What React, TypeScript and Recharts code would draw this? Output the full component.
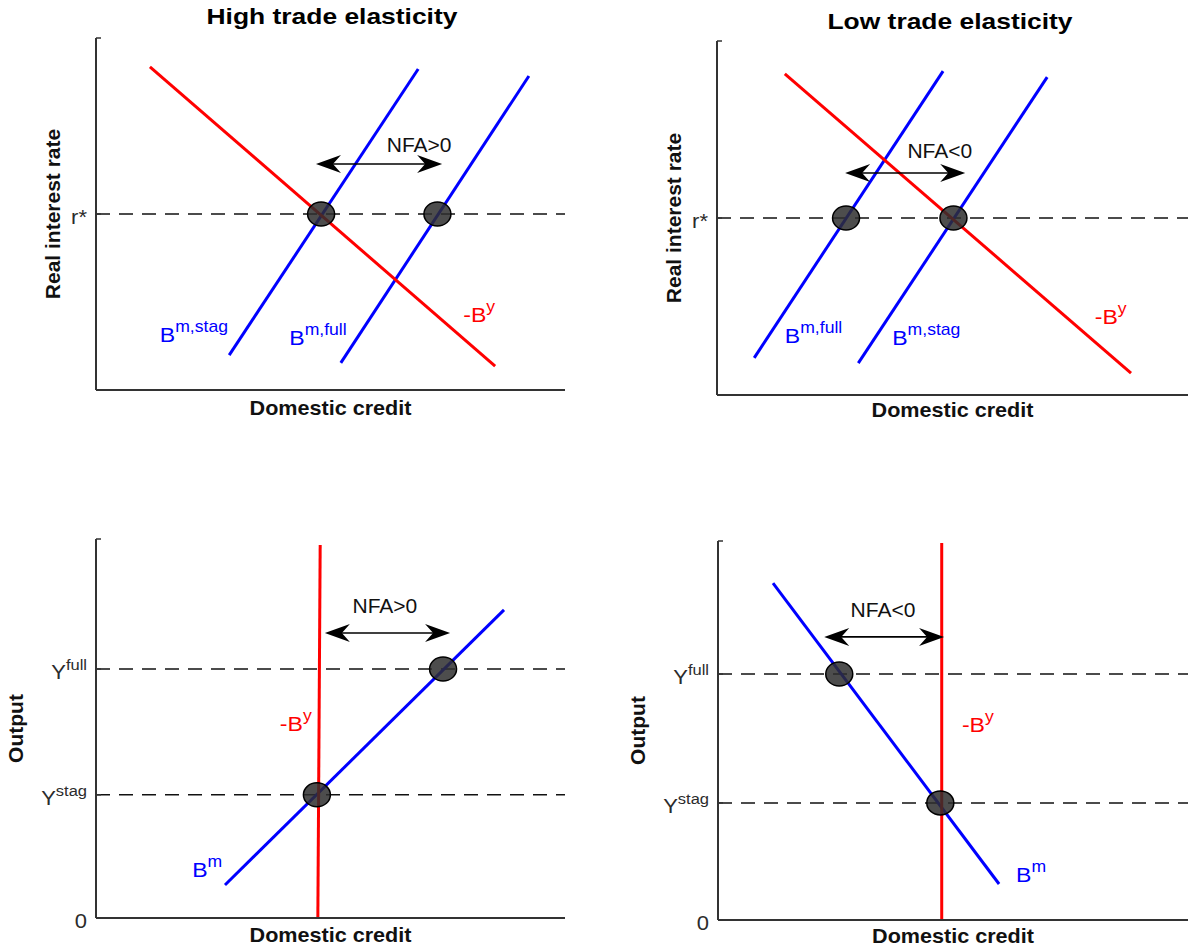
import React from 'react';
import { LineChart, Line, XAxis, YAxis, ReferenceLine, ReferenceDot } from 'recharts';

const FONT = '"Liberation Sans", Arial, Helvetica, sans-serif';
const BLUE = '#0000ff';
const RED = '#ff0000';
const AXIS = '#333333';

type Pt = { x: number; y: number };
type Tag = { x: number; y: number; main: string; sup: string; color: string };

// ---- top left: high trade elasticity, real interest rate vs domestic credit
const hiRateNegBy: Pt[] = [{ x: 11.5, y: 91.8 }, { x: 85.1, y: 6.8 }];
const hiRateBmStag: Pt[] = [{ x: 28.4, y: 9.9 }, { x: 68.7, y: 91.2 }];
const hiRateBmFull: Pt[] = [{ x: 52.2, y: 7.7 }, { x: 92.3, y: 89.2 }];
const hiRateRefs = [50];
const hiRateTicks = [50, 100];
const hiRateTickLabels = [['r*', ''], ['', '']];
const hiRateDots: Pt[] = [{ x: 48.0, y: 50 }, { x: 72.8, y: 50 }];
const hiRateArrow: Pt[] = [{ x: 46.9, y: 64.2 }, { x: 73.8, y: 64.2 }];
const hiRateNfa = { x: 68.9, y: 67.6, text: 'NFA>0' };
const hiRateTags: Tag[] = [
  { x: 13.6, y: 13.6, main: 'B', sup: 'm,stag', color: BLUE },
  { x: 41.2, y: 12.8, main: 'B', sup: 'm,full', color: BLUE },
  { x: 78.3, y: 19.3, main: '-B', sup: 'y', color: RED },
];

// ---- top right: low trade elasticity
const loRateNegBy: Pt[] = [{ x: 14.4, y: 90.7 }, { x: 87.9, y: 6.2 }];
const loRateBmFull: Pt[] = [{ x: 7.9, y: 10.5 }, { x: 48.0, y: 91.5 }];
const loRateBmStag: Pt[] = [{ x: 30.0, y: 9.0 }, { x: 70.1, y: 89.8 }];
const loRateRefs = [50];
const loRateTicks = [50, 100];
const loRateTickLabels = [['r*', ''], ['', '']];
const loRateDots: Pt[] = [{ x: 27.4, y: 50 }, { x: 50.2, y: 50 }];
const loRateArrow: Pt[] = [{ x: 27.2, y: 62.7 }, { x: 52.7, y: 62.7 }];
const loRateNfa = { x: 47.3, y: 66.9, text: 'NFA<0' };
const loRateTags: Tag[] = [
  { x: 14.4, y: 14.7, main: 'B', sup: 'm,full', color: BLUE },
  { x: 37.2, y: 14.1, main: 'B', sup: 'm,stag', color: BLUE },
  { x: 80.2, y: 20.1, main: '-B', sup: 'y', color: RED },
];

// ---- bottom left: output, high elasticity
const hiOutNegBy: Pt[] = [{ x: 47.8, y: 98.4 }, { x: 47.3, y: 0 }];
const hiOutBm: Pt[] = [{ x: 27.5, y: 8.7 }, { x: 87.0, y: 81.3 }];
const hiOutRefs = [65.7, 32.5];
const hiOutTicks = [0, 32.5, 65.7, 100];
const hiOutTickLabels = [['0', ''], ['Y', 'stag'], ['Y', 'full'], ['', '']];
const hiOutDots: Pt[] = [{ x: 47.1, y: 32.5 }, { x: 74.0, y: 65.7 }];
const hiOutArrow: Pt[] = [{ x: 48.8, y: 75.2 }, { x: 75.5, y: 75.2 }];
const hiOutNfa = { x: 61.6, y: 80.5, text: 'NFA>0' };
const hiOutTags: Tag[] = [
  { x: 39.2, y: 49.3, main: '-B', sup: 'y', color: RED },
  { x: 20.5, y: 10.8, main: 'B', sup: 'm', color: BLUE },
];

// ---- bottom right: output, low elasticity
const loOutNegBy: Pt[] = [{ x: 47.6, y: 99.5 }, { x: 47.6, y: 0 }];
const loOutBm: Pt[] = [{ x: 11.7, y: 88.9 }, { x: 59.8, y: 9.5 }];
const loOutRefs = [64.9, 30.9];
const loOutTicks = [0, 30.9, 64.9, 100];
const loOutTickLabels = [['0', ''], ['Y', 'stag'], ['Y', 'full'], ['', '']];
const loOutDots: Pt[] = [{ x: 25.8, y: 64.9 }, { x: 47.3, y: 30.9 }];
const loOutArrow: Pt[] = [{ x: 22.6, y: 74.7 }, { x: 48.1, y: 74.7 }];
const loOutNfa = { x: 35.1, y: 79.9, text: 'NFA<0' };
const loOutTags: Tag[] = [
  { x: 51.9, y: 49.6, main: '-B', sup: 'y', color: RED },
  { x: 63.4, y: 10.0, main: 'B', sup: 'm', color: BLUE },
];

// double headed arrow, barbed heads like the matlab annotation
const Arrow = (p: any) => {
  const { x1, y1, x2, y2 } = p;
  const head = (tx: number, ty: number, d: number) =>
    `${tx},${ty} ${tx - d * 25},${ty - 9} ${tx - d * 17},${ty} ${tx - d * 25},${ty + 9}`;
  return (
    <g>
      <line x1={x1 + 10} y1={y1} x2={x2 - 10} y2={y2} stroke="#000" strokeWidth={1.6} />
      <polygon points={head(x1, y1, -1)} fill="#000" />
      <polygon points={head(x2, y2, 1)} fill="#000" />
    </g>
  );
};

const YTick = (p: any) => {
  const { x, y, payload, ticks, labels } = p;
  const i = ticks.indexOf(payload.value);
  const [main, sup] = labels[i] || ['', ''];
  return (
    <g>
      <line x1={x} x2={x + 5} y1={y} y2={y} stroke={AXIS} strokeWidth={1.5} />
      <text
        transform={`translate(${x - 9} ${y + 10}) scale(1.1 1)`}
        textAnchor="end"
        fontFamily={FONT}
        fontSize={20}
        fill="#2b2b2b"
      >
        {main}
        {sup ? <tspan dy={-9} fontSize={15}>{sup}</tspan> : null}
      </text>
    </g>
  );
};

type PanelProps = {
  x0: number; y0: number; w: number; h: number;
  plot: { l: number; t: number; r: number; b: number };
  yLabel: string; yLabelX: number; xLabelY: number;
  negBy: Pt[]; blues: Pt[][];
  refs: number[]; ticks: number[]; tickLabels: string[][];
  dots: Pt[]; arrow: Pt[]; nfa: { x: number; y: number; text: string };
  tags: Tag[];
};

const Panel = (props: PanelProps) => {
  const { x0, y0, w, h, plot } = props;
  return (
    <div style={{ position: 'absolute', left: x0, top: y0 }}>
      <LineChart
        width={w}
        height={h}
        margin={{ top: plot.t - y0, right: x0 + w - plot.r, bottom: 0, left: 0 }}
      >
        <XAxis
          type="number"
          dataKey="x"
          domain={[0, 100]}
          tick={false}
          tickLine={false}
          height={y0 + h - plot.b}
          axisLine={{ stroke: AXIS, strokeWidth: 2 }}
          label={{
            content: (lp: any) => (
              <text
                transform={`translate(${lp.viewBox.x + lp.viewBox.width / 2} ${lp.viewBox.y + props.xLabelY - plot.b}) scale(1.08 1)`}
                textAnchor="middle"
                fontFamily={FONT}
                fontWeight="bold"
                fontSize={20}
                fill="#111"
              >
                Domestic credit
              </text>
            ),
          }}
        />
        <YAxis
          type="number"
          domain={[0, 100]}
          ticks={props.ticks}
          interval={0}
          width={plot.l - x0}
          tickSize={0}
          tickMargin={0}
          tickLine={false}
          axisLine={{ stroke: AXIS, strokeWidth: 2 }}
          tick={(tp: any) => <YTick {...tp} ticks={props.ticks} labels={props.tickLabels} />}
          label={{
            content: (lp: any) => {
              const cx = props.yLabelX - x0;
              const cy = lp.viewBox.y + lp.viewBox.height / 2;
              return (
                <text
                  transform={`translate(${cx} ${cy}) rotate(-90)`}
                  textAnchor="middle"
                  fontFamily={FONT}
                  fontWeight="bold"
                  fontSize={21}
                  fill="#111"
                >
                  {props.yLabel}
                </text>
              );
            },
          }}
        />
        {props.refs.map((v) => (
          <ReferenceLine key={v} y={v} stroke="#111" strokeWidth={1.5} strokeDasharray="14 9" />
        ))}
        {props.blues.map((d, i) => (
          <Line
            key={`b${i}`}
            data={d}
            dataKey="y"
            stroke={BLUE}
            strokeWidth={3}
            dot={false}
            activeDot={false}
            isAnimationActive={false}
          />
        ))}
        <Line
          data={props.negBy}
          dataKey="y"
          stroke={RED}
          strokeWidth={3}
          dot={false}
          activeDot={false}
          isAnimationActive={false}
        />
        {props.dots.map((d, i) => (
          <ReferenceDot
            key={`d${i}`}
            x={d.x}
            y={d.y}
            r={13}
            shape={(sp: any) => (
              <ellipse
                cx={sp.cx}
                cy={sp.cy}
                rx={13.5}
                ry={12}
                fill="#2e2e2e"
                fillOpacity={0.85}
                stroke="#000"
                strokeWidth={1.5}
              />
            )}
          />
        ))}
        <ReferenceLine segment={props.arrow} shape={(sp: any) => <Arrow {...sp} />} />
        <ReferenceDot
          x={props.nfa.x}
          y={props.nfa.y}
          shape={(sp: any) => (
            <text x={sp.cx} y={sp.cy} textAnchor="middle" fontFamily={FONT} fontSize={21} fill="#111">
              {props.nfa.text}
            </text>
          )}
        />
        {props.tags.map((t, i) => (
          <ReferenceDot
            key={`t${i}`}
            x={t.x}
            y={t.y}
            shape={(sp: any) => (
              <text
                transform={`translate(${sp.cx} ${sp.cy}) scale(1.1 1)`}
                fontFamily={FONT}
                fontSize={21}
                fill={t.color}
              >
                {t.main}
                <tspan dy={-10} fontSize={16}>{t.sup}</tspan>
              </text>
            )}
          />
        ))}
      </LineChart>
    </div>
  );
};

const Title = ({ text, cx, baseline }: { text: string; cx: number; baseline: number }) => (
  <div
    style={{
      position: 'absolute',
      left: cx - 200,
      top: baseline - 19,
      width: 400,
      textAlign: 'center',
      fontFamily: FONT,
      fontWeight: 'bold',
      fontSize: 22,
      lineHeight: '22px',
      color: '#000',
      transform: 'scaleX(1.2)',
      transformOrigin: 'center',
      whiteSpace: 'nowrap',
    }}
  >
    {text}
  </div>
);

export default function App() {
  return (
    <div style={{ position: 'absolute', left: 0, top: 0, width: 1188, height: 951, background: '#fff', overflow: 'hidden' }}>
      <Title text="High trade elasticity" cx={332} baseline={25} />
      <Title text="Low trade elasticity" cx={950} baseline={30} />
      <Panel
        x0={0} y0={0} w={594} h={470}
        plot={{ l: 96, t: 38, r: 565, b: 390 }}
        yLabel="Real interest rate" yLabelX={60} xLabelY={415}
        negBy={hiRateNegBy} blues={[hiRateBmStag, hiRateBmFull]}
        refs={hiRateRefs} ticks={hiRateTicks} tickLabels={hiRateTickLabels}
        dots={hiRateDots} arrow={hiRateArrow} nfa={hiRateNfa} tags={hiRateTags}
      />
      <Panel
        x0={594} y0={0} w={594} h={470}
        plot={{ l: 717, t: 41, r: 1188, b: 395 }}
        yLabel="Real interest rate" yLabelX={681} xLabelY={417}
        negBy={loRateNegBy} blues={[loRateBmFull, loRateBmStag]}
        refs={loRateRefs} ticks={loRateTicks} tickLabels={loRateTickLabels}
        dots={loRateDots} arrow={loRateArrow} nfa={loRateNfa} tags={loRateTags}
      />
      <Panel
        x0={0} y0={470} w={594} h={481}
        plot={{ l: 96, t: 539, r: 565, b: 918 }}
        yLabel="Output" yLabelX={23} xLabelY={942}
        negBy={hiOutNegBy} blues={[hiOutBm]}
        refs={hiOutRefs} ticks={hiOutTicks} tickLabels={hiOutTickLabels}
        dots={hiOutDots} arrow={hiOutArrow} nfa={hiOutNfa} tags={hiOutTags}
      />
      <Panel
        x0={594} y0={470} w={594} h={481}
        plot={{ l: 718, t: 541, r: 1188, b: 920 }}
        yLabel="Output" yLabelX={645} xLabelY={943}
        negBy={loOutNegBy} blues={[loOutBm]}
        refs={loOutRefs} ticks={loOutTicks} tickLabels={loOutTickLabels}
        dots={loOutDots} arrow={loOutArrow} nfa={loOutNfa} tags={loOutTags}
      />
    </div>
  );
}
